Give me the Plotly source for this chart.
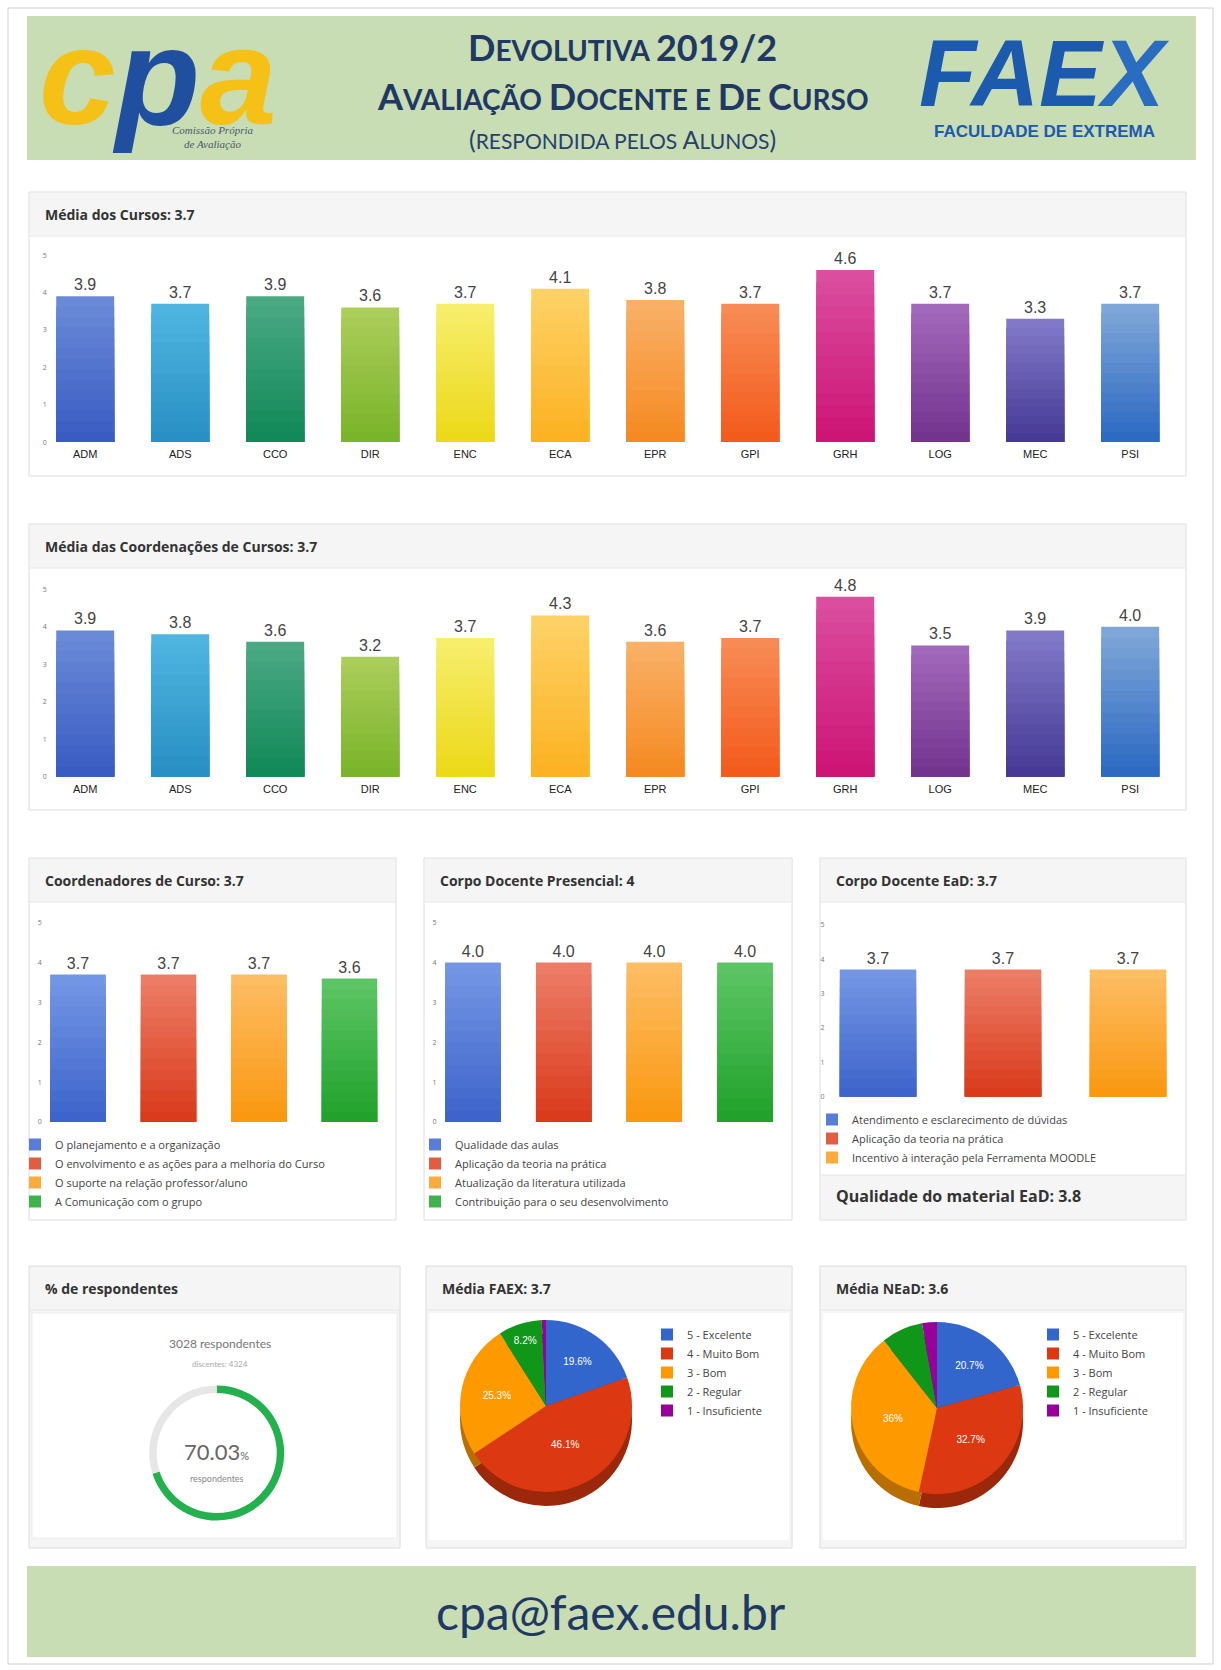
import plotly.graph_objects as go

W, H = 1221, 1670

# ---------------- data ----------------
cursos = ["ADM", "ADS", "CCO", "DIR", "ENC", "ECA", "EPR", "GPI", "GRH", "LOG", "MEC", "PSI"]
media_cursos = [3.9, 3.7, 3.9, 3.6, 3.7, 4.1, 3.8, 3.7, 4.6, 3.7, 3.3, 3.7]
media_coordenacoes = [3.9, 3.8, 3.6, 3.2, 3.7, 4.3, 3.6, 3.7, 4.8, 3.5, 3.9, 4.0]

itens_coordenadores = [
    "O planejamento e a organização",
    "O envolvimento e as ações para a melhoria do Curso",
    "O suporte na relação professor/aluno",
    "A Comunicação com o grupo",
]
notas_coordenadores = [3.7, 3.7, 3.7, 3.6]

itens_presencial = [
    "Qualidade das aulas",
    "Aplicação da teoria na prática",
    "Atualização da literatura utilizada",
    "Contribuição para o seu desenvolvimento",
]
notas_presencial = [4.0, 4.0, 4.0, 4.0]

itens_ead = [
    "Atendimento e esclarecimento de dúvidas",
    "Aplicação da teoria na prática",
    "Incentivo à interação pela Ferramenta MOODLE",
]
notas_ead = [3.7, 3.7, 3.7]

conceitos = ["5 - Excelente", "4 - Muito Bom", "3 - Bom", "2 - Regular", "1 - Insuficiente"]
distribuicao_faex = [19.6, 46.1, 25.3, 8.2, 0.8]
distribuicao_nead = [20.7, 32.7, 36.0, 7.8, 2.8]

respondentes = 3028
pct_respondentes = 70.03

# ---------------- colours ----------------
cores_cursos_topo = ["#6a8ad8", "#4fb5e0", "#4aa883", "#abcd59", "#f7ee6b", "#fdd165",
                     "#f9b066", "#f78b55", "#da4d9f", "#a268bb", "#8179c8", "#7ea6d8"]
cores_cursos_base = ["#3a5cc2", "#2890c4", "#118959", "#7ab42a", "#ecd91a", "#fcb222",
                     "#f58a22", "#f35b1c", "#cd1575", "#73348e", "#463a96", "#2d6ac2"]
cores_itens_topo = ["#7396e4", "#ec7c66", "#fdbd62", "#5cc464"]
cores_itens_base = ["#3e64cb", "#da3b1c", "#fa9812", "#22a22c"]
cores_conceitos = ["#3366cc", "#dc3912", "#ff9900", "#109618", "#990099"]
cores_conceitos_lado = ["#244a94", "#9c280c", "#b86e00", "#0b6a11", "#6c006c"]

NAVY = "#1f3864"
VERDE_FAIXA = "#c8ddb3"
FUNDO_TITULO = "#f4f5f4"
BORDA = "#dcdcdc"
STEPS = 14


def fx(x):
    return x / W


def fy(y):
    return 1 - y / H


def mix(c1, c2, t):
    a = [int(c1[i:i + 2], 16) for i in (1, 3, 5)]
    b = [int(c2[i:i + 2], 16) for i in (1, 3, 5)]
    return "#%02x%02x%02x" % tuple(round(a[j] + (b[j] - a[j]) * t) for j in range(3))


def fmt_pct(v):
    s = ("%.1f" % v).rstrip("0").rstrip(".")
    return s + "%"


fig = go.Figure()
shapes = []
annotations = []


def rect(x0, y0, x1, y1, fill, line=None, lw=1):
    shapes.append(dict(type="rect", xref="paper", yref="paper",
                       x0=fx(x0), x1=fx(x1), y0=fy(y1), y1=fy(y0),
                       fillcolor=fill, layer="below",
                       line=dict(color=line if line else "rgba(0,0,0,0)", width=lw if line else 0)))


def hline(x0, x1, y, color=BORDA):
    shapes.append(dict(type="line", xref="paper", yref="paper", x0=fx(x0), x1=fx(x1),
                       y0=fy(y), y1=fy(y), line=dict(color=color, width=1), layer="below"))


def text(x, y, s, size, color="#333", family="Open Sans", xanchor="left", **kw):
    annotations.append(dict(xref="paper", yref="paper", x=fx(x), y=fy(y), text=s,
                            showarrow=False, xanchor=xanchor, yanchor="middle",
                            font=dict(size=size, color=color, family=family), **kw))


def panel(x0, y0, x1, y1, title, head=44, body="#ffffff"):
    rect(x0, y0, x1, y1, body, BORDA)
    rect(x0 + 1, y0 + 1, x1 - 1, y0 + head, FUNDO_TITULO)
    hline(x0 + 1, x1 - 1, y0 + head, "#e6e6e6")
    text(x0 + 14, y0 + head / 2, "<b>%s</b>" % title, 14, "#333")


def eixo(n, x0, x1, y5, y0, cats, show_x):
    sfx = "" if n == 1 else str(n)
    fig.update_layout(**{
        "xaxis" + sfx: dict(domain=[fx(x0), fx(x1)], anchor="y" + sfx, type="category",
                            categoryorder="array", categoryarray=cats,
                            range=[-0.5, len(cats) - 0.5], showticklabels=show_x,
                            tickfont=dict(size=11, color="#222", family="Liberation Sans"),
                            ticklabelstandoff=4, automargin=False,
                            showgrid=False, zeroline=False, showline=False, ticks="",
                            fixedrange=True),
        "yaxis" + sfx: dict(domain=[fy(y0), fy(y5)], anchor="x" + sfx, range=[0, 5],
                            tick0=0, dtick=1, showgrid=False, zeroline=False, showline=False,
                            ticks="", ticklabelposition="outside", ticklabelstandoff=-10,
                            automargin=False,
                            tickfont=dict(size=7, color="#777"), fixedrange=True),
    })


def barras(n, xs, vals, tops, bots, legenda=None):
    sfx = "" if n == 1 else str(n)
    rotulos = ["%.1f" % v for v in vals]
    common = dict(xaxis="x" + sfx, yaxis="y" + sfx, cliponaxis=False)
    if legenda:
        # one trace per item so each item gets its own legend entry
        for i, (x, v) in enumerate(zip(xs, vals)):
            fig.add_trace(go.Bar(x=[x], y=[v], name=x, legend=legenda,
                                 marker=dict(color=mix(tops[i], bots[i], 0.5), line_width=0),
                                 text=[rotulos[i]], textposition="outside",
                                 textfont=dict(size=16, color="#444", family="Liberation Sans"),
                                 hoverinfo="y", **common))
    else:
        fig.add_trace(go.Bar(x=xs, y=vals, showlegend=False,
                             marker=dict(color=tops, line_width=0),
                             text=rotulos, textposition="outside",
                             textfont=dict(size=16, color="#444", family="Liberation Sans"),
                             hoverinfo="x+y", **common))
    # vertical shading: progressively shorter, deeper-toned bars laid over each other
    for k in range(0 if legenda else 1, STEPS):
        f = 1 - k / STEPS
        fig.add_trace(go.Bar(x=xs, y=[v * f for v in vals], showlegend=False,
                             marker=dict(color=[mix(t, b, k / (STEPS - 1)) for t, b in zip(tops, bots)],
                                         line_width=0),
                             hoverinfo="skip", **common))


def legenda_cfg(x, y, size=11):
    return dict(x=fx(x), y=fy(y), xanchor="left", yanchor="top", bgcolor="rgba(0,0,0,0)",
                font=dict(size=size, color="#444", family="Open Sans"),
                itemclick=False, itemdoubleclick=False, tracegroupgap=0,
                traceorder="normal", itemwidth=30)


def pizza(cx, cy, r, vals, rotulos, legenda):
    d = 14
    dom_lado = dict(x=[fx(cx - r), fx(cx + r)], y=[fy(cy + r + d), fy(cy - r + d)])
    dom = dict(x=[fx(cx - r), fx(cx + r)], y=[fy(cy + r), fy(cy - r)])
    # darker copy shifted down gives the pie its thickness
    fig.add_trace(go.Pie(values=vals, labels=rotulos, sort=False, direction="clockwise",
                         rotation=0, marker=dict(colors=cores_conceitos_lado, line_width=0),
                         textinfo="none", hoverinfo="skip", showlegend=False, domain=dom_lado))
    fig.add_trace(go.Pie(values=vals, labels=rotulos, sort=False, direction="clockwise",
                         rotation=0, marker=dict(colors=cores_conceitos, line_width=0),
                         text=[fmt_pct(v) if v >= 8 else "" for v in vals], textinfo="text",
                         textposition="inside", insidetextorientation="horizontal",
                         textfont=dict(size=10, color="white", family="Liberation Sans"),
                         hoverinfo="label+value", domain=dom, legend=legenda))


# ---------------- page frame, header and footer ----------------
rect(8, 8, 1213, 1664, "#ffffff", "#cfcfcf")
rect(27, 16, 1196, 160, VERDE_FAIXA)
rect(27, 1566, 1196, 1657, VERDE_FAIXA)

B = "<span style='font-size:36px'>%s</span>"
text(623, 47, "<b>" + B % "D" + "EVOLUTIVA " + B % "2019/2" + "</b>", 28, NAVY, "Lato", "center")
text(623, 96, "<b>" + B % "A" + "VALIAÇÃO " + B % "D" + "OCENTE E " + B % "D" + "E " + B % "C" + "URSO</b>",
     28, NAVY, "Lato", "center")
S = "<span style='font-size:25px'>%s</span>"
text(623, 139, S % "(" + "RESPONDIDA PELOS " + S % "A" + "LUNOS" + S % ")", 21, "#27406e", "Lato", "center")

# CPA logo lettering
text(158, 76, "<b><i><span style='color:#f5c116'>c</span><span style='color:#1f4f9e'>p</span>"
     "<span style='color:#f5c116'>a</span></i></b>", 138, "#f5c116", "Liberation Sans", "center")
text(212, 137, "<i>Comissão Própria<br>de Avaliação</i>", 11, "#4b5870", "Liberation Serif", "center")

# FAEX logo lettering
text(1044, 74, "<b><i>FAE<span style='color:#2a6cc0'>X</span></i></b>", 94, "#1c5aae", "Liberation Sans", "center")
text(1044, 132, "<b>FACULDADE DE EXTREMA</b>", 17, "#1c5aae", "Liberation Sans", "center")

text(611, 1611, "cpa@faex.edu.br", 48, NAVY, "Lato", "center")

# ---------------- course averages ----------------
panel(29, 192, 1186, 476, "Média dos Cursos: 3.7")
eixo(1, 37.7, 1177.7, 255.1, 442.1, cursos, True)
barras(1, cursos, media_cursos, cores_cursos_topo, cores_cursos_base)

panel(29, 524, 1186, 810, "Média das Coordenações de Cursos: 3.7")
eixo(2, 37.7, 1177.7, 589.2, 776.7, cursos, True)
barras(2, cursos, media_coordenacoes, cores_cursos_topo, cores_cursos_base)

# ---------------- item panels ----------------
panel(29, 858, 396, 1220, "Coordenadores de Curso: 3.7")
eixo(3, 32.75, 394.75, 923, 1122, itens_coordenadores, False)
barras(3, itens_coordenadores, notas_coordenadores, cores_itens_topo, cores_itens_base, "legend")

panel(424, 858, 792, 1220, "Corpo Docente Presencial: 4")
eixo(4, 427.6, 790.4, 923, 1122, itens_presencial, False)
barras(4, itens_presencial, notas_presencial, cores_itens_topo, cores_itens_base, "legend2")

panel(820, 858, 1186, 1220, "Corpo Docente EaD: 3.7")
eixo(5, 815.5, 1190.5, 925, 1096.7, itens_ead, False)
barras(5, itens_ead, notas_ead, cores_itens_topo[:3], cores_itens_base[:3], "legend3")
rect(821, 1175, 1185, 1219, FUNDO_TITULO)
hline(821, 1185, 1175, "#e6e6e6")
text(834, 1196, "<b>Qualidade do material EaD: 3.8</b>", 16, "#333")

# ---------------- bottom row ----------------
panel(29, 1266, 400, 1548, "% de respondentes", body=FUNDO_TITULO)
rect(32, 1313, 397, 1538, "#ffffff", "#ececec")
panel(426, 1266, 792, 1548, "Média FAEX: 3.7", body=FUNDO_TITULO)
rect(429, 1313, 789, 1540, "#ffffff")
panel(820, 1266, 1186, 1548, "Média NEaD: 3.6", body=FUNDO_TITULO)
rect(823, 1313, 1183, 1540, "#ffffff")

cx, cy, r = 216.7, 1453, 67.5
fig.add_trace(go.Pie(values=[pct_respondentes, 100 - pct_respondentes],
                     labels=["respondentes", "não respondentes"], sort=False,
                     direction="clockwise", rotation=0, hole=0.89,
                     marker=dict(colors=["#22b14c", "#e6e6e6"], line_width=0),
                     textinfo="none", hoverinfo="skip", showlegend=False,
                     domain=dict(x=[fx(cx - r), fx(cx + r)], y=[fy(cy + r), fy(cy - r)])))
text(220, 1343, "%d respondentes" % respondentes, 12, "#777", "Lato", "center")
text(220, 1364, "discentes: 4324", 8, "#aaa", "Lato", "center")
text(cx, 1451, ("%.2f" % pct_respondentes) + "<span style='font-size:11px'>%</span>", 22, "#666", "Lato", "center")
text(cx, 1478, "respondentes", 9, "#888", "Lato", "center")

# pie legends are keyed by label, so the NEaD labels carry a trailing space to keep their own legend
pizza(546, 1406, 86, distribuicao_faex, conceitos, "legend4")
pizza(937, 1408, 86, distribuicao_nead, [c + " " for c in conceitos], "legend5")

fig.update_layout(
    width=W, height=H, margin=dict(l=0, r=0, t=0, b=0, pad=0, autoexpand=False),
    paper_bgcolor="#ffffff", plot_bgcolor="rgba(0,0,0,0)",
    font=dict(family="Open Sans", color="#333"),
    barmode="overlay", bargap=0.39, showlegend=True,
    shapes=shapes, annotations=annotations,
    legend=legenda_cfg(15, 1130),
    legend2=legenda_cfg(415, 1130),
    legend3=legenda_cfg(812, 1105),
    legend4=legenda_cfg(647, 1320),
    legend5=legenda_cfg(1033, 1320),
)

fig.write_html("out.html", config={"displayModeBar": False})
